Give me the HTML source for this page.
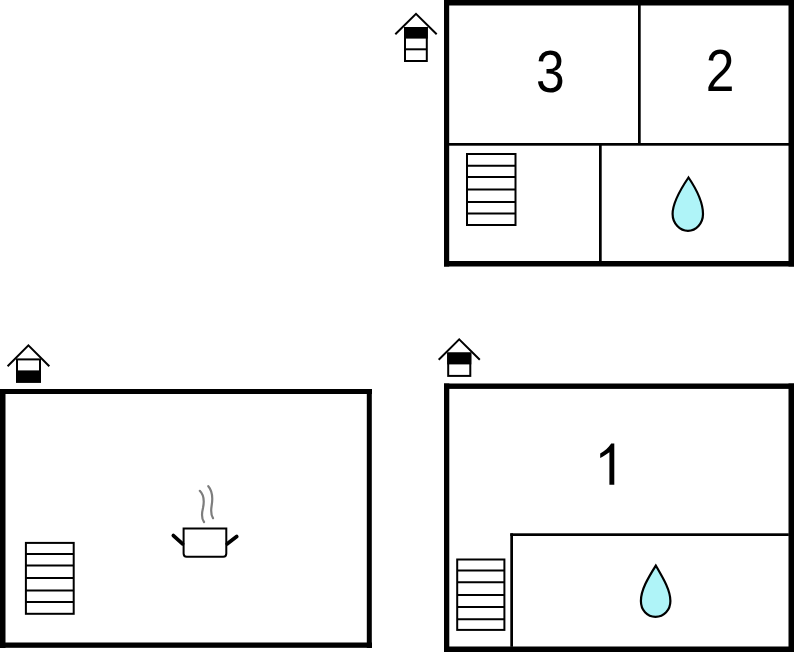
<!DOCTYPE html>
<html><head><meta charset="utf-8">
<style>
html,body{margin:0;padding:0;background:#fff;width:794px;height:652px;overflow:hidden;}
svg{position:absolute;left:0;top:0;display:block;}
text{font-family:"Liberation Sans", sans-serif;}
</style></head>
<body>
<svg width="794" height="652" viewBox="0 0 794 652">
<!-- TOP PLAN -->
<g fill="#000">
  <rect x="444" y="0" width="5.2" height="266.5"/>
  <rect x="444" y="0" width="350" height="5.5"/>
  <rect x="788.5" y="0" width="5.5" height="266.5"/>
  <rect x="444" y="261" width="350" height="5.5"/>
  <rect x="449" y="143" width="340" height="2.7"/>
  <rect x="638" y="5" width="2.7" height="139"/>
  <rect x="599" y="145" width="2.7" height="117"/>
</g>
<!-- top stairs -->
<g fill="none" stroke="#000" stroke-width="2">
  <rect x="467" y="154" width="48.5" height="71"/>
  <path d="M467 165.7H515.5M467 177H515.5M467 189.6H515.5M467 201.9H515.5M467 213.4H515.5"/>
</g>
<!-- top drop -->
<path d="M688.5,177.5 C680,190 672.6,203 672.6,214 C672.6,223.5 680,230.8 688,230.8 C696,230.8 703,223.5 703,214 C703,203 697,190 688.5,177.5 Z" fill="#aff4f8" stroke="#000" stroke-width="2.2"/>
<text transform="translate(550.3,91.6) scale(0.86,1)" font-size="60" text-anchor="middle">3</text>
<text transform="translate(720.1,91.1) scale(0.86,1)" font-size="60" text-anchor="middle">2</text>
<!-- top house icon -->
<g fill="none" stroke="#000" stroke-width="2">
  <path d="M395.3 34.3 L416 13.8 L436.7 34.3"/>
  <rect x="405" y="28" width="21.8" height="33"/>
  <path d="M405 49.3H427"/>
</g>
<rect x="404" y="27" width="23.8" height="11.6" fill="#000"/>

<!-- BOTTOM LEFT PLAN -->
<g fill="#000">
  <rect x="0" y="389" width="372" height="5"/>
  <rect x="0" y="389" width="5.5" height="259"/>
  <rect x="366.8" y="389" width="5" height="259"/>
  <rect x="0" y="642.5" width="372" height="5.3"/>
</g>
<g fill="none" stroke="#000" stroke-width="2">
  <path d="M7.6 366.3 L28.4 345.3 L49.3 366.3"/>
  <rect x="17" y="359.4" width="23" height="22.3"/>
</g>
<rect x="16" y="370.4" width="25" height="12.3" fill="#000"/>
<g fill="none" stroke="#000" stroke-width="2">
  <rect x="25.9" y="542.9" width="47.8" height="70.9"/>
  <path d="M25.9 554H73.7M25.9 565.4H73.7M25.9 578H73.7M25.9 590.4H73.7M25.9 602.1H73.7"/>
</g>
<!-- pot -->
<g fill="none" stroke="#000">
  <path d="M183.6 528.6 H226.3 V553.5 Q226.3 556.7 223.3 556.7 H186.6 Q183.6 556.7 183.6 553.5 Z" stroke-width="2"/>
  <path d="M173.4 535.6 L182.6 543.8 M227.3 543.8 L236.7 536.6" stroke-width="3.8" stroke-linecap="round"/>
</g>
<g fill="none" stroke="#7d7d7d" stroke-width="2.2" stroke-linecap="round">
  <path d="M199.8,490.8 C204,495 204.5,501 203,508 C201.5,514 201,518 204,522"/>
  <path d="M208.3,486.2 C212.5,491 212.8,499 211.6,506 C210.8,511 211,515 213,518.2"/>
</g>

<!-- BOTTOM RIGHT PLAN -->
<g fill="#000">
  <rect x="444" y="383.5" width="350" height="5.4"/>
  <rect x="444" y="383.5" width="5.3" height="268.5"/>
  <rect x="788.5" y="383.5" width="5.5" height="268.5"/>
  <rect x="444" y="646.5" width="350" height="5.5"/>
  <rect x="510.3" y="533.3" width="2.7" height="113.5"/>
  <rect x="510.3" y="533.3" width="278.5" height="2.7"/>
</g>
<g fill="none" stroke="#000" stroke-width="2">
  <path d="M438.7 359.8 L459.2 339.4 L479.8 359.8"/>
  <rect x="448.2" y="353.5" width="22.1" height="22.4"/>
</g>
<rect x="447.2" y="352.5" width="24.1" height="11.9" fill="#000"/>
<g fill="none" stroke="#000" stroke-width="2">
  <rect x="457.2" y="559.5" width="47.2" height="70.4"/>
  <path d="M457.2 570.6H504.4M457.2 582.3H504.4M457.2 594.9H504.4M457.2 607H504.4M457.2 619.2H504.4"/>
</g>
<path d="M655.8,565.6 C648,578 640.9,590 640.9,601 C640.9,610 647,616.8 655.5,616.8 C664,616.8 670.4,610 670.4,601 C670.4,590 663,578 655.8,565.6 Z" fill="#aff4f8" stroke="#000" stroke-width="2.2"/>
<path d="M611.2,443.5 L614.3,443.5 L614.3,484.7 L609.4,484.7 L609.4,452.3 C606.5,454.5 603.5,456.5 600.2,458 L600.2,453.6 C604.5,451 608.5,448 611.2,443.5 Z" fill="#000"/>
</svg>
</body></html>
